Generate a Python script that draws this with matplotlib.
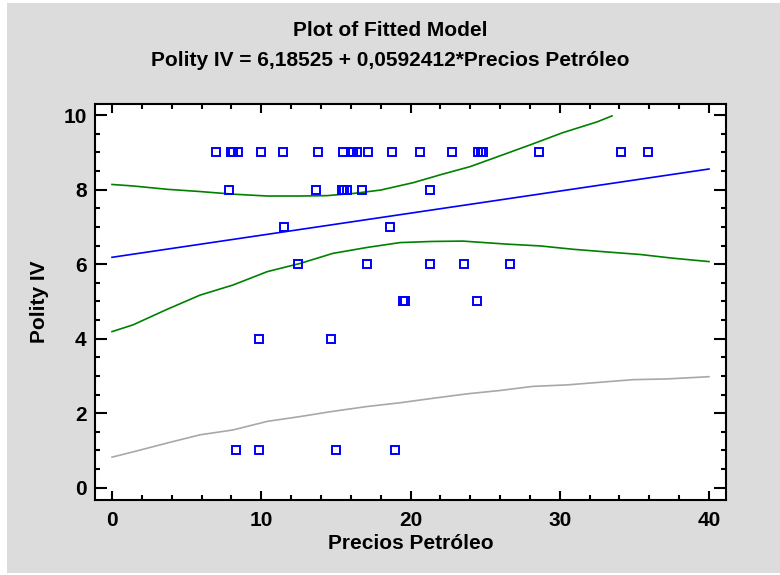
import matplotlib
matplotlib.use("Agg")
import matplotlib.pyplot as plt
from matplotlib.patches import Rectangle
from matplotlib.ticker import MultipleLocator

plt.rcParams['font.family'] = ['Liberation Sans', 'DejaVu Sans']
plt.rcParams['font.weight'] = 'bold'

# observed points (Precios Petroleo, Polity IV)
obs_x = [6.95, 7.95, 8.12, 8.46, 9.96, 11.45, 13.79, 15.49, 15.99, 16.16, 16.39,
         17.17, 18.73, 20.63, 22.79, 24.53, 24.70, 24.87, 28.62, 34.13, 35.92,
         7.86, 13.68, 15.39, 15.54, 15.72, 16.72, 21.30,
         11.54, 18.62,
         12.44, 17.06, 21.30, 23.58, 26.70,
         19.51, 19.60, 24.47,
         9.87, 14.69,
         8.31, 9.87, 15.02, 18.95]
obs_y = [9] * 21 + [8] * 7 + [7] * 2 + [6] * 5 + [5] * 3 + [4] * 2 + [1] * 4

# fitted line
fit_x = [0, 40]
fit_y = [6.185, 8.555]

# upper green limit
up_x = [0, 1.4, 3.7, 5.9, 8.1, 10.4, 12.5, 14.4, 16.2, 18.0, 20.2, 22.0, 24.0,
        25.8, 28.0, 30.2, 32.5, 33.5]
up_y = [8.14, 8.10, 8.01, 7.95, 7.88, 7.83, 7.83, 7.84, 7.90, 7.99, 8.19, 8.40,
        8.62, 8.88, 9.20, 9.53, 9.82, 9.98]

# lower green limit
lo_x = [0, 1.4, 3.7, 5.9, 8.1, 10.4, 12.6, 14.8, 17.1, 19.3, 21.4, 23.5, 26.4,
        28.7, 30.9, 33.1, 35.4, 37.6, 40]
lo_y = [4.19, 4.37, 4.79, 5.17, 5.44, 5.80, 6.02, 6.29, 6.45, 6.58, 6.61, 6.62,
        6.54, 6.49, 6.40, 6.33, 6.26, 6.16, 6.07]

# lower gray limit
gr_x = [0, 1.4, 3.7, 5.9, 8.1, 10.4, 12.6, 14.8, 17.1, 19.3, 21.5, 23.8, 26.0,
        28.2, 30.5, 32.7, 34.9, 37.2, 40]
gr_y = [0.82, 0.96, 1.20, 1.42, 1.55, 1.78, 1.91, 2.05, 2.18, 2.28, 2.40, 2.52,
        2.61, 2.72, 2.76, 2.83, 2.90, 2.92, 2.98]

fig = plt.figure(figsize=(7.8, 5.75), dpi=100, facecolor='white')
fig.patches.append(Rectangle((7 / 780, 2 / 575), 1, 570 / 575, transform=fig.transFigure,
                             facecolor='#dcdcdc', edgecolor='none', zorder=-10))

ax = fig.add_axes([95 / 780, 75 / 575, 631 / 780, 396 / 575])
ax.set_facecolor('white')

ax.plot(gr_x, gr_y, color='#a8a8a8', lw=1.2)
ax.plot(lo_x, lo_y, color='#008000', lw=1.2)
ax.plot(up_x, up_y, color='#008000', lw=1.2)
ax.plot(fit_x, fit_y, color='#0000ff', lw=1.2)
ax.plot(obs_x, obs_y, linestyle='none', marker='s', ms=6, mfc='none',
        mec='#0000ff', mew=1.4)

ax.set_xlim(-1.14, 41.14)
ax.set_ylim(-0.33, 10.3)
ax.xaxis.set_major_locator(MultipleLocator(10))
ax.xaxis.set_minor_locator(MultipleLocator(2))
ax.yaxis.set_major_locator(MultipleLocator(2))
ax.yaxis.set_minor_locator(MultipleLocator(0.5))

for s in ax.spines.values():
    s.set_linewidth(1.5)
ax.tick_params(axis='both', which='both', direction='in', top=True, right=True,
               width=1.5, labelsize=15)
ax.tick_params(axis='y', which='major', length=8.5, pad=6)
ax.tick_params(axis='x', which='major', length=6.5, pad=8)
ax.tick_params(axis='both', which='minor', length=3.5)

ax.set_xlabel('Precios Petróleo', fontsize=15, fontweight='bold', labelpad=3)
ax.set_ylabel('Polity IV', fontsize=15, fontweight='bold', labelpad=10)

fig.text(0.5, 1 - 31 / 575, 'Plot of Fitted Model', ha='center', va='center',
         fontsize=15, fontweight='bold')
fig.text(0.5, 1 - 60 / 575, 'Polity IV = 6,18525 + 0,0592412*Precios Petróleo',
         ha='center', va='center', fontsize=15, fontweight='bold')

fig.savefig('out.png', dpi=100, facecolor=fig.get_facecolor())
